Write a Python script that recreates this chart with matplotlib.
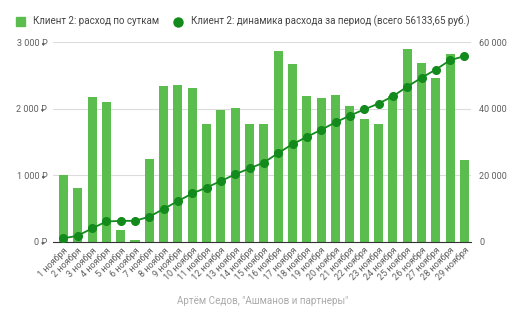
import matplotlib.pyplot as plt
import numpy as np

plt.rcParams['font.family'] = ['Roboto', 'DejaVu Sans']

days = [f"{d} ноября" for d in range(1, 30)]
daily = [1003, 808, 2181, 2097, 176, 25, 1240, 2342, 2357, 2308,
         1771, 1981, 2007, 1771, 1771, 2865, 2669, 2192, 2157, 2207,
         2042, 1841, 1771, 2190, 2899, 2689, 2467, 2824, 1229]
total = np.cumsum(daily)

left_ticks = [0, 1000, 2000, 3000]
left_labels = ["0 ₽", "1 000 ₽", "2 000 ₽", "3 000 ₽"]
right_ticks = [0, 20000, 40000, 60000]
right_labels = ["0", "20 000", "40 000", "60 000"]

bar_color = '#5bbd4e'
line_color = '#128a1c'
text_color = '#5f5f5f'

fig = plt.figure(figsize=(5.24, 3.23), dpi=100)
ax = fig.add_axes([0.101, 0.2517, 0.798, 0.617])
x = np.arange(len(days))

ax.bar(x, daily, width=0.63, color=bar_color, zorder=2)
ax.set_ylim(0, 3000)
ax.set_xlim(-0.73, 28.46)
ax.set_yticks(left_ticks)
ax.set_yticklabels(left_labels)
ax.set_xticks(x)
ax.set_xticklabels(days, rotation=45, ha='right', va='top',
                   rotation_mode='anchor')
ax.tick_params(axis='both', length=0, labelsize=6.5, colors=text_color)
ax.tick_params(axis='x', pad=3)
ax.tick_params(axis='y', pad=4)
ax.grid(axis='y', color='#dcdcdc', linewidth=0.8, zorder=0)
for s in ['top', 'right', 'left']:
    ax.spines[s].set_visible(False)
ax.spines['bottom'].set_color('#333333')
ax.spines['bottom'].set_linewidth(0.8)
ax.set_axisbelow(True)

ax2 = ax.twinx()
ax2.plot(x, total, color=line_color, linewidth=1.3, marker='o',
         markersize=5.5, zorder=3)
ax2.set_ylim(0, 60000)
ax2.set_yticks(right_ticks)
ax2.set_yticklabels(right_labels)
ax2.tick_params(axis='y', length=0, labelsize=6.5, colors=text_color, pad=6)
for s in ax2.spines.values():
    s.set_visible(False)

# legend drawn by hand along the top
fig.patches.append(plt.Rectangle((16 / 524, 1 - 26 / 323), 9 / 524, 9 / 323,
                                 transform=fig.transFigure, color=bar_color))
fig.text(33 / 524, 1 - 21.5 / 323, "Клиент 2: расход по суткам",
         fontsize=7.0, color='#444444', va='center')
fig.lines.append(plt.Line2D([178 / 524], [1 - 21.5 / 323], marker='o',
                            markersize=6.5, color=line_color,
                            transform=fig.transFigure))
fig.text(191 / 524, 1 - 21.5 / 323,
         "Клиент 2: динамика расхода за период (всего 56133,65 руб.)",
         fontsize=7.0, color='#444444', va='center')

fig.text(263 / 524, 1 - 301 / 323, 'Артём Седов, "Ашманов и партнеры"',
         fontsize=7.1, color='#aaaaaa', ha='center', va='center')

fig.savefig('out.png', dpi=100)
